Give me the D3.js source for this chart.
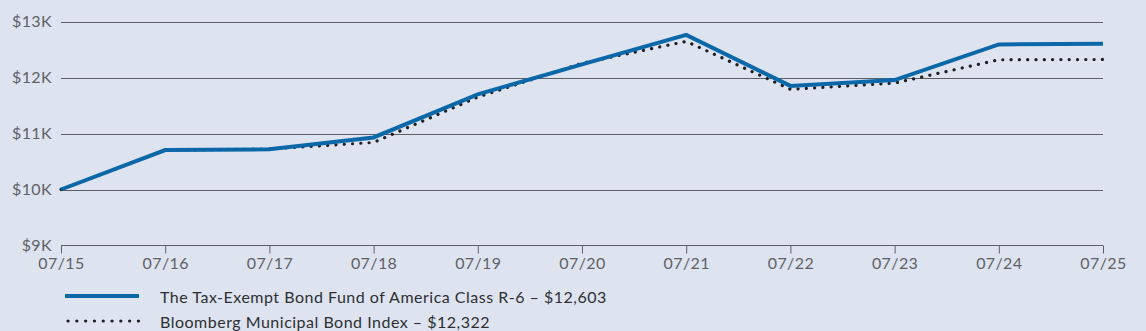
<!DOCTYPE html>
<html><head><meta charset="utf-8">
<script src="https://cdn.jsdelivr.net/npm/d3@7"></script>
<style>
html,body{margin:0;padding:0;background:#dde4f0;}
svg{display:block;font-family:Lato,"Noto Sans",sans-serif;}
</style></head><body>
<svg id="c" width="1146" height="331"></svg>
<script>
const categories = ["07/15","07/16","07/17","07/18","07/19","07/20","07/21","07/22","07/23","07/24","07/25"];
const fundValues = [10000,10704,10717,10930,11700,12235,12760,11850,11955,12590,12603];
const indexValues = [10000,10700,10725,10840,11650,12255,12645,11790,11900,12317,12322];
const yTicks = [9000,10000,11000,12000,13000];
const yTickLabels = ["$9K","$10K","$11K","$12K","$13K"];
const seriesNames = ["The Tax-Exempt Bond Fund of America Class R-6 \u2013 $12,603","Bloomberg Municipal Bond Index \u2013 $12,322"];

const svg = d3.select("#c");
const W = 1146, H = 331;
svg.append("rect").attr("width",W).attr("height",H).attr("fill","#dde4f0");
const x = d3.scalePoint().domain(categories).range([61,1103]);
const y = d3.scaleLinear().domain([9000,13000]).range([245.5,21.5]);

// gridlines
svg.append("g").selectAll("line").data(yTicks.filter(d=>d>9000)).join("line")
  .attr("x1",61).attr("x2",1103).attr("y1",d=>Math.round(y(d))+0.5).attr("y2",d=>Math.round(y(d))+0.5)
  .attr("stroke","#5c5f66").attr("stroke-width",1);

// y labels
svg.append("g").selectAll("text").data(yTicks).join("text")
  .attr("x",52).attr("y",d=>y(d)).attr("dy","0.35em").attr("text-anchor","end")
  .attr("font-size",16).attr("letter-spacing",0.4).attr("fill","#5f6166").text((d,i)=>yTickLabels[i]);

// x axis
const xa = svg.append("g").attr("transform","translate(0,245.5)")
  .call(d3.axisBottom(x).tickSize(8).tickPadding(4));
xa.select(".domain").attr("stroke","#5c5f66").attr("d","M61,0H1103");
xa.selectAll(".tick line").attr("stroke","#5c5f66");
xa.selectAll(".tick text").attr("font-size",16).attr("letter-spacing",0.4).attr("fill","#5f6166").attr("font-family","Lato,'Noto Sans',sans-serif");

const line = d3.line().x((d,i)=>x(categories[i])).y(d=>y(d));
svg.append("path").datum(indexValues).attr("d",line).attr("fill","none")
  .attr("stroke","#1e1f24").attr("stroke-width",3.2).attr("stroke-linecap","round")
  .attr("stroke-dasharray","0.1 8.2");
svg.append("path").datum(fundValues).attr("d",line).attr("fill","none")
  .attr("stroke","#0a68a8").attr("stroke-width",4).attr("stroke-linejoin","miter");

// legend
const lg = svg.append("g");
lg.append("line").attr("x1",65).attr("x2",139).attr("y1",296).attr("y2",296)
  .attr("stroke","#0a68a8").attr("stroke-width",4);
lg.append("line").attr("x1",68).attr("x2",139).attr("y1",321).attr("y2",321)
  .attr("stroke","#1e1f24").attr("stroke-width",3.2).attr("stroke-linecap","round").attr("stroke-dasharray","0.1 8.7");
lg.selectAll("text").data(seriesNames).join("text")
  .attr("x",160).attr("y",(d,i)=>297+i*25).attr("dy","0.35em")
  .attr("font-size",16).attr("letter-spacing",0.5).attr("fill","#2d2f33").text(d=>d);
</script></body></html>
